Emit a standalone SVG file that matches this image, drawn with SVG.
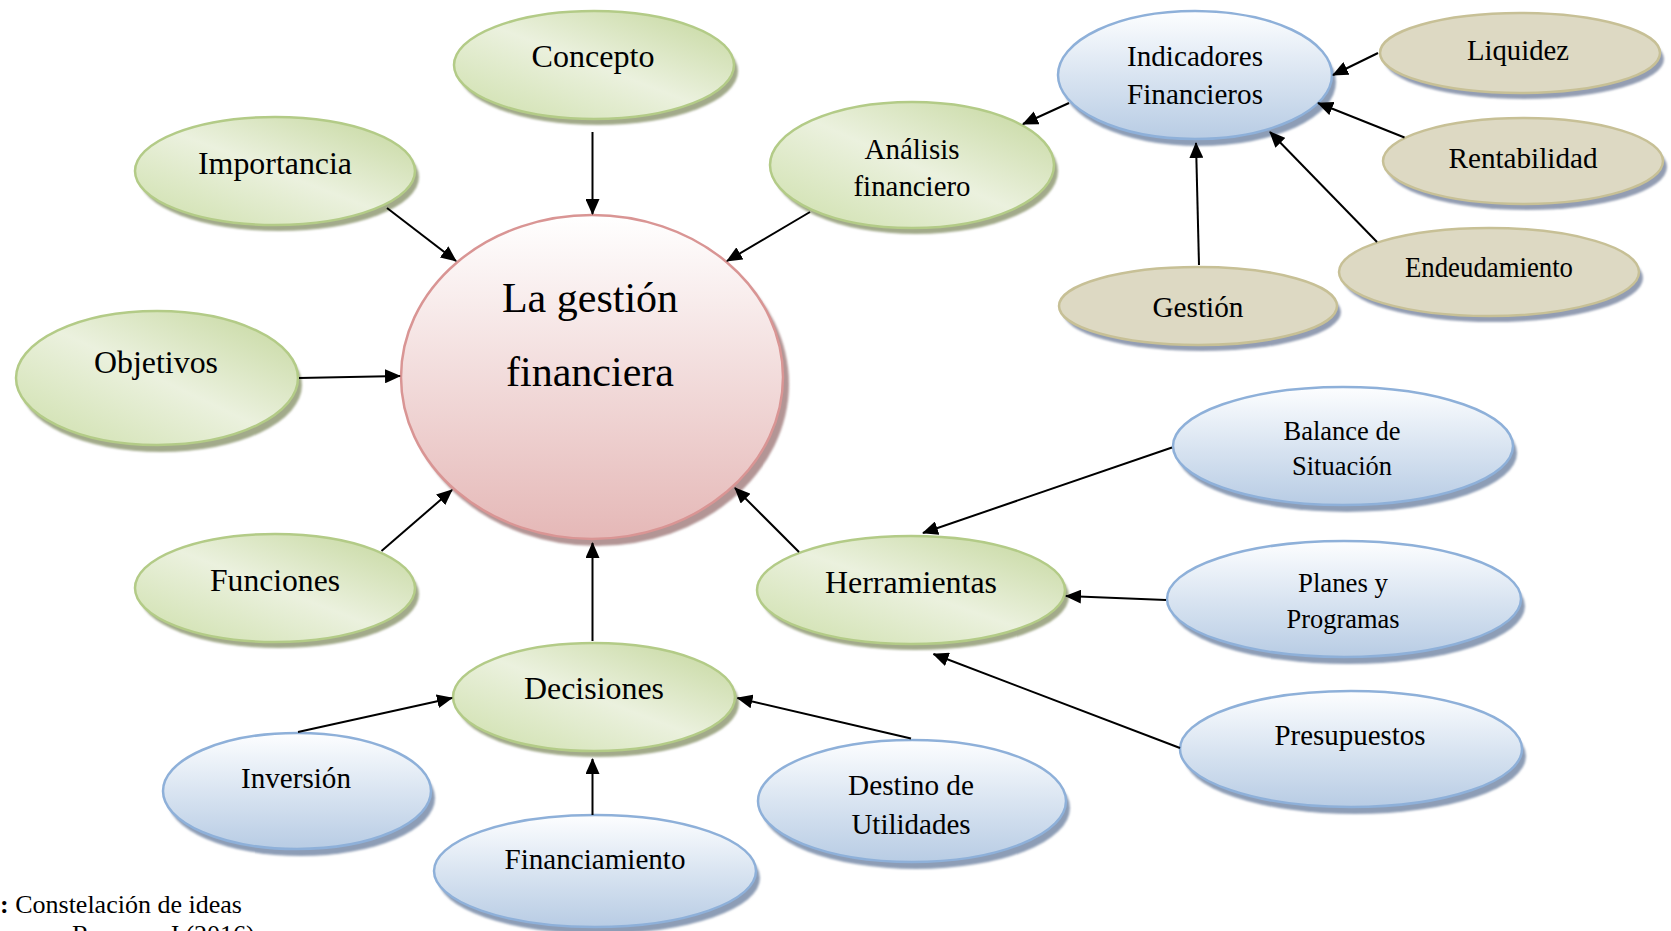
<svg xmlns="http://www.w3.org/2000/svg" width="1671" height="931" viewBox="0 0 1671 931">
<style>
text{font-family:"Liberation Serif","Times New Roman",serif;fill:#000;text-anchor:middle}
.g{fill:url(#gGreen);stroke:#b3cb87;stroke-width:2.5}
.b{fill:url(#gBlue);stroke:#8eb0d9;stroke-width:2.5}
.t{fill:#ddd9c3;stroke:#c7c096;stroke-width:2.5}
.c{fill:url(#gPink);stroke:#d99594;stroke-width:2.5}
.sg{fill:#a2aa8a;filter:url(#blur)}
.sb{fill:#8d9db6;filter:url(#blur)}
.st{fill:#939db2;filter:url(#blur)}
.sc{fill:#b39595;filter:url(#blur)}
.f31{font-size:31px}
.f29{font-size:29px}
.f27{font-size:27px}
.conn line{stroke:#000;stroke-width:2;marker-end:url(#arr)}
</style>
<defs>
<linearGradient id="gGreen" x1="1" y1="0" x2="0" y2="1">
<stop offset="0" stop-color="#c3d69b"/>
<stop offset="0.5" stop-color="#ebf1de"/>
<stop offset="1" stop-color="#cddfaa"/>
</linearGradient>
<linearGradient id="gBlue" x1="0" y1="0" x2="0" y2="1">
<stop offset="0" stop-color="#fdfeff"/>
<stop offset="0.55" stop-color="#d6e2f0"/>
<stop offset="1" stop-color="#b8cce4"/>
</linearGradient>
<linearGradient id="gPink" x1="0" y1="0" x2="0" y2="1">
<stop offset="0" stop-color="#ffffff"/>
<stop offset="1" stop-color="#e5b8b7"/>
</linearGradient>
<filter id="blur" x="-10%" y="-10%" width="120%" height="120%"><feGaussianBlur stdDeviation="1.2"/></filter>
<marker id="arr" markerUnits="userSpaceOnUse" markerWidth="16" markerHeight="14" viewBox="0 0 16 14" refX="15" refY="7" orient="auto">
<path d="M0,0 L16,7 L0,14 Z" fill="#000"/>
</marker>
</defs>
<rect width="1671" height="931" fill="#fff"/>

<g id="central">
<ellipse class="sc" cx="597" cy="384" rx="192" ry="162"/>
<ellipse class="c" cx="592" cy="377" rx="191" ry="162"/>
<text x="590" y="312" style="font-size:42px">La gestión</text>
<text x="590" y="386" style="font-size:42px">financiera</text>
</g>

<g id="concepto">
<ellipse class="sg" cx="598" cy="71" rx="140" ry="54"/>
<ellipse class="g" cx="594" cy="65" rx="140" ry="54"/>
<text class="f31" x="593" y="67" textLength="123" lengthAdjust="spacingAndGlyphs">Concepto</text>
</g>

<g id="importancia">
<ellipse class="sg" cx="279" cy="177" rx="140" ry="54"/>
<ellipse class="g" cx="275" cy="171" rx="140" ry="54"/>
<text class="f31" x="275" y="174" textLength="154" lengthAdjust="spacingAndGlyphs">Importancia</text>
</g>

<g id="objetivos">
<ellipse class="sg" cx="161" cy="385" rx="141" ry="67"/>
<ellipse class="g" cx="157" cy="378" rx="141" ry="67"/>
<text class="f31" x="156" y="373" textLength="124" lengthAdjust="spacingAndGlyphs">Objetivos</text>
</g>

<g id="funciones">
<ellipse class="sg" cx="279" cy="594" rx="140" ry="54"/>
<ellipse class="g" cx="275" cy="588" rx="140" ry="54"/>
<text class="f31" x="275" y="591" textLength="130" lengthAdjust="spacingAndGlyphs">Funciones</text>
</g>

<g id="analisis">
<ellipse class="sg" cx="916" cy="171" rx="142" ry="63"/>
<ellipse class="g" cx="912" cy="165" rx="142" ry="63"/>
<text class="f29" x="912" y="159">Análisis</text>
<text class="f29" x="912" y="196" textLength="117" lengthAdjust="spacingAndGlyphs">financiero</text>
</g>

<g id="herramientas">
<ellipse class="sg" cx="915" cy="596" rx="154" ry="54"/>
<ellipse class="g" cx="911" cy="590" rx="154" ry="54"/>
<text class="f31" x="911" y="593" textLength="172" lengthAdjust="spacingAndGlyphs">Herramientas</text>
</g>

<g id="decisiones">
<ellipse class="sg" cx="598" cy="703" rx="141" ry="54"/>
<ellipse class="g" cx="594" cy="697" rx="141" ry="54"/>
<text class="f31" x="594" y="699" textLength="140" lengthAdjust="spacingAndGlyphs">Decisiones</text>
</g>

<g id="indicadores">
<ellipse class="sb" cx="1199" cy="82" rx="137" ry="64"/>
<ellipse class="b" cx="1195" cy="75" rx="137" ry="64"/>
<text class="f29" x="1195" y="66" textLength="136" lengthAdjust="spacingAndGlyphs">Indicadores</text>
<text class="f29" x="1195" y="104" textLength="136" lengthAdjust="spacingAndGlyphs">Financieros</text>
</g>

<g id="liquidez">
<ellipse class="st" cx="1524" cy="59" rx="140" ry="40"/>
<ellipse class="t" cx="1520" cy="53" rx="140" ry="40"/>
<text class="f29" x="1518" y="60" textLength="102" lengthAdjust="spacingAndGlyphs">Liquidez</text>
</g>

<g id="rentabilidad">
<ellipse class="st" cx="1527" cy="167" rx="140" ry="43"/>
<ellipse class="t" cx="1523" cy="161" rx="140" ry="43"/>
<text class="f29" x="1523" y="168" textLength="149" lengthAdjust="spacingAndGlyphs">Rentabilidad</text>
</g>

<g id="endeudamiento">
<ellipse class="st" cx="1493" cy="278" rx="150" ry="44"/>
<ellipse class="t" cx="1489" cy="272" rx="150" ry="44"/>
<text class="f29" x="1489" y="277" textLength="168" lengthAdjust="spacingAndGlyphs">Endeudamiento</text>
</g>

<g id="gestion">
<ellipse class="st" cx="1202" cy="312" rx="139" ry="39"/>
<ellipse class="t" cx="1198" cy="306" rx="139" ry="39"/>
<text class="f29" x="1198" y="317" textLength="91" lengthAdjust="spacingAndGlyphs">Gestión</text>
</g>

<g id="balance">
<ellipse class="sb" cx="1347" cy="453" rx="170" ry="59"/>
<ellipse class="b" cx="1343" cy="446" rx="170" ry="59"/>
<text class="f27" x="1342" y="440" textLength="117" lengthAdjust="spacingAndGlyphs">Balance de</text>
<text class="f27" x="1342" y="475" textLength="100" lengthAdjust="spacingAndGlyphs">Situación</text>
</g>

<g id="planes">
<ellipse class="sb" cx="1348" cy="606" rx="177" ry="58"/>
<ellipse class="b" cx="1344" cy="599" rx="177" ry="58"/>
<text class="f27" x="1343" y="592" textLength="90" lengthAdjust="spacingAndGlyphs">Planes y</text>
<text class="f27" x="1343" y="628" textLength="113" lengthAdjust="spacingAndGlyphs">Programas</text>
</g>

<g id="presupuestos">
<ellipse class="sb" cx="1355" cy="756" rx="171" ry="58"/>
<ellipse class="b" cx="1351" cy="749" rx="171" ry="58"/>
<text class="f29" x="1350" y="745" textLength="151" lengthAdjust="spacingAndGlyphs">Presupuestos</text>
</g>

<g id="inversion">
<ellipse class="sb" cx="301" cy="798" rx="134" ry="58"/>
<ellipse class="b" cx="297" cy="791" rx="134" ry="58"/>
<text class="f29" x="296" y="788" textLength="110" lengthAdjust="spacingAndGlyphs">Inversión</text>
</g>

<g id="financiamiento">
<ellipse class="sb" cx="599" cy="878" rx="161" ry="56"/>
<ellipse class="b" cx="595" cy="871" rx="161" ry="56"/>
<text class="f29" x="595" y="869" textLength="181" lengthAdjust="spacingAndGlyphs">Financiamiento</text>
</g>

<g id="destino">
<ellipse class="sb" cx="916" cy="808" rx="154" ry="61"/>
<ellipse class="b" cx="912" cy="801" rx="154" ry="61"/>
<text class="f29" x="911" y="795" textLength="126" lengthAdjust="spacingAndGlyphs">Destino de</text>
<text class="f29" x="911" y="834">Utilidades</text>
</g>

<g id="connectors" class="conn">
<line x1="592.5" y1="132" x2="592.5" y2="214"/>
<line x1="387" y1="208" x2="456" y2="261"/>
<line x1="299" y1="378" x2="400" y2="376"/>
<line x1="381.5" y1="551" x2="452" y2="490"/>
<line x1="810" y1="212" x2="727" y2="261"/>
<line x1="799" y1="552" x2="735" y2="488"/>
<line x1="592.5" y1="641" x2="592.5" y2="543"/>
<line x1="1069" y1="103" x2="1023" y2="124"/>
<line x1="1378" y1="53" x2="1333" y2="75"/>
<line x1="1404.5" y1="137.5" x2="1318" y2="103"/>
<line x1="1377" y1="242" x2="1270" y2="132"/>
<line x1="1199" y1="265" x2="1196" y2="143"/>
<line x1="1172" y1="447.5" x2="923" y2="533"/>
<line x1="1166" y1="600" x2="1066" y2="596"/>
<line x1="1180" y1="748" x2="933.5" y2="654"/>
<line x1="298" y1="732" x2="452" y2="698"/>
<line x1="592.5" y1="815" x2="592.5" y2="759"/>
<line x1="911" y1="738.5" x2="737.5" y2="698"/>
</g>

<g id="caption">
<text x="0" y="913" style="font-size:26px;text-anchor:start"><tspan font-weight="bold">:</tspan> Constelación de ideas</text>
<text x="72" y="943" style="font-size:26px;text-anchor:start">Romero, J (2016)</text>
</g>
</svg>
